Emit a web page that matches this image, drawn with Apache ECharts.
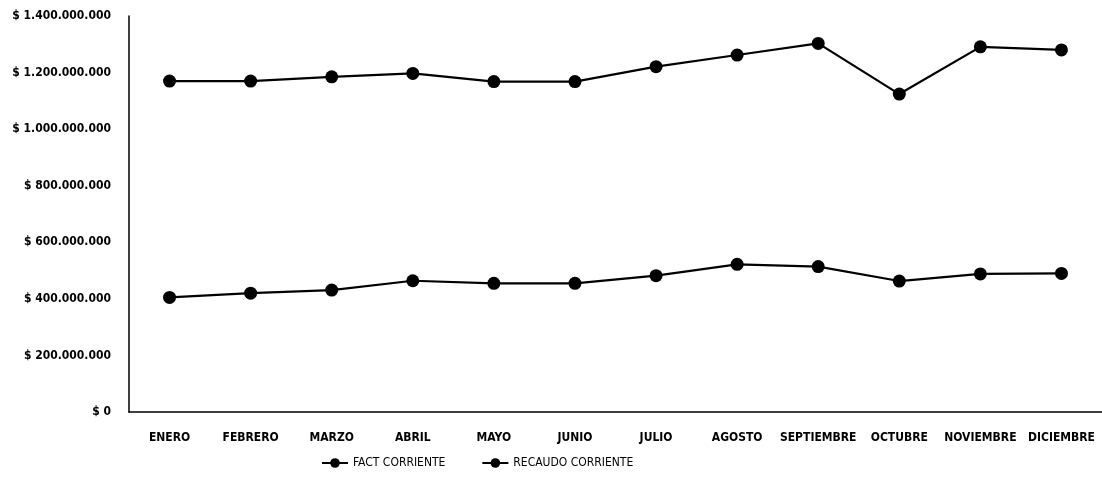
<!DOCTYPE html>
<html>
<head>
<meta charset="utf-8">
<script src="https://cdn.jsdelivr.net/npm/echarts@6/dist/echarts.min.js"></script>
<style>
  html, body { margin: 0; padding: 0; background: #fff; }
  #chart { width: 1102px; height: 498px; }
</style>
</head>
<body>
<div id="chart"></div>
<script>
// Monthly billing vs. collection (current period), in pesos
const months = ['ENERO', 'FEBRERO', 'MARZO', 'ABRIL', 'MAYO', 'JUNIO', 'JULIO', 'AGOSTO', 'SEPTIEMBRE', 'OCTUBRE', 'NOVIEMBRE', 'DICIEMBRE'];
const factCorriente = [1170000000, 1170000000, 1185000000, 1197000000, 1168000000, 1168000000, 1221000000, 1262000000, 1303000000, 1124000000, 1291000000, 1280000000];
const recaudoCorriente = [405000000, 420000000, 431000000, 464000000, 455000000, 455000000, 482000000, 522000000, 514000000, 463000000, 488000000, 490000000];
const seriesNames = ['FACT CORRIENTE', 'RECAUDO CORRIENTE'];

const FONT = '"Liberation Sans Narrow", "DejaVu Sans Condensed", "Open Sans", sans-serif';

function money(v) {
  // "$ 1.400.000.000" style with dot thousands separators
  const s = Math.round(v).toString().replace(/\B(?=(\d{3})+(?!\d))/g, '.');
  return '$ ' + s;
}

const chart = echarts.init(document.getElementById('chart'), null, { renderer: 'canvas' });

const lineSeries = (name, data) => ({
  name,
  type: 'line',
  data,
  symbol: 'circle',
  symbolSize: 13,
  lineStyle: { color: '#000', width: 2.2 },
  itemStyle: { color: '#000' },
  animation: false
});

chart.setOption({
  backgroundColor: '#fff',
  animation: false,
  grid: { left: 129, right: 0, top: 16, bottom: 86, containLabel: false },
  legend: {
    data: seriesNames,
    left: 316,
    top: 452,
    itemGap: 36,
    itemWidth: 26,
    itemHeight: 12,
    textStyle: { fontFamily: FONT, fontSize: 12, color: '#000' }
  },
  xAxis: {
    type: 'category',
    data: months,
    boundaryGap: true,
    axisLine: { lineStyle: { color: '#000', width: 1.5 } },
    axisTick: { show: false },
    axisLabel: { color: '#000', fontFamily: FONT, fontSize: 12, fontWeight: 'bold', margin: 20, interval: 0 }
  },
  yAxis: {
    type: 'value',
    min: 0,
    max: 1400000000,
    interval: 200000000,
    splitLine: { show: false },
    axisLine: { show: true, lineStyle: { color: '#000', width: 1.5 } },
    axisTick: { show: false },
    axisLabel: { color: '#000', fontFamily: FONT, fontSize: 12, fontWeight: 'bold', margin: 18, formatter: money }
  },
  series: [
    lineSeries(seriesNames[0], factCorriente),
    lineSeries(seriesNames[1], recaudoCorriente)
  ]
});
</script>
</body>
</html>
